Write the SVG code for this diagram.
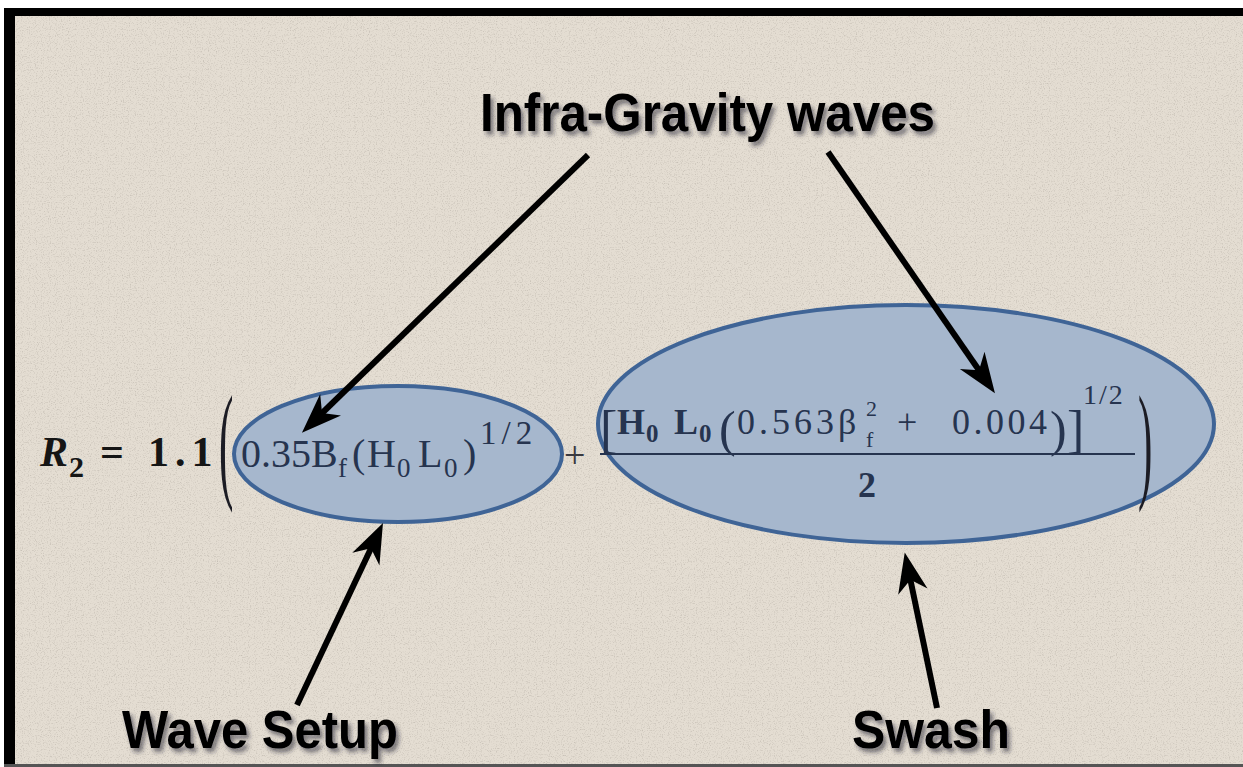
<svg xmlns="http://www.w3.org/2000/svg" width="1243" height="767" viewBox="0 0 1243 767">
<style>
.math{font-family:"Liberation Serif","DejaVu Serif",serif;fill:#26344f}
.lhs{font-family:"Liberation Serif","DejaVu Serif",serif;fill:#151515;font-weight:bold}
.op{font-family:"Liberation Serif","DejaVu Serif",serif;fill:#3a3a40;font-weight:normal}
.delim{font-family:"Liberation Serif","DejaVu Serif",serif;fill:#1c1c24;font-size:24px}
.lbl{font-family:"Liberation Sans Narrow","Liberation Sans",Arial,sans-serif;font-weight:bold;fill:#000}
.bub{fill:#a6b7cd;stroke:#3f6496;stroke-width:4}
.conn{stroke:#000;stroke-width:6;fill:none;marker-end:url(#head)}
.b{font-weight:bold}
</style>
<defs>
<filter id="grain" x="0" y="0" width="100%" height="100%">
<feTurbulence type="fractalNoise" baseFrequency="0.85" numOctaves="2" seed="7"/>
<feColorMatrix type="matrix" values="0 0 0 0 0.45 0 0 0 0 0.41 0 0 0 0 0.36 0 0 0 1.5 -0.76"/>
</filter>
<filter id="shadow" x="-10%" y="-30%" width="120%" height="170%">
<feDropShadow dx="3" dy="4" stdDeviation="2" flood-color="#1a2030" flood-opacity="0.55"/>
</filter>
<marker id="head" markerUnits="userSpaceOnUse" markerWidth="42" markerHeight="32" viewBox="0 0 42 32" refX="19" refY="16" orient="auto">
<path d="M0,1 L40,16 L0,31 L12,16 Z" fill="#000"/>
</marker>
</defs>

<g id="background">
<rect x="0" y="0" width="1243" height="767" fill="#fff"/>
<rect x="4" y="8" width="1239" height="757" fill="#e4ddd2"/>
<rect x="4" y="8" width="1239" height="757" filter="url(#grain)"/>
<rect x="4" y="8" width="1239" height="8" fill="#000"/>
<rect x="4" y="8" width="11" height="759" fill="#000"/>
<rect x="4" y="764" width="1239" height="3" fill="#555"/>
</g>

<g id="node-setup">
<ellipse class="bub" cx="398" cy="454" rx="164" ry="68"/>
<text class="math" font-size="40" y="467"><tspan x="241">0.35B</tspan><tspan x="338" y="477" font-size="27">f</tspan><tspan x="352" y="467">(</tspan><tspan x="367">H</tspan><tspan x="397" y="477" font-size="27">0</tspan><tspan x="418" y="467">L</tspan><tspan x="444" y="477" font-size="27">0</tspan><tspan x="463" y="467">)</tspan><tspan x="480" y="444" font-size="33" letter-spacing="5">1/2</tspan></text>
</g>

<g id="node-swash">
<ellipse class="bub" cx="906" cy="424" rx="308" ry="119"/>
<text class="math" font-size="36" y="434"><tspan x="600" y="447" font-size="52">[</tspan><tspan x="617" y="434" class="b">H</tspan><tspan x="646" y="442" font-size="25" class="b">0</tspan><tspan x="674" y="434" class="b">L</tspan><tspan x="699" y="442" font-size="25" class="b">0</tspan><tspan x="719" y="446" font-size="50">(</tspan><tspan x="737" y="434" letter-spacing="4">0.563β</tspan><tspan x="866" y="416" font-size="22">2</tspan><tspan x="866" y="447" font-size="22">f</tspan><tspan x="897" y="434">+</tspan><tspan x="952" letter-spacing="3.5">0.004</tspan><tspan x="1050" y="446" font-size="50">)</tspan><tspan x="1067" y="447" font-size="52">]</tspan><tspan x="1083" y="404" font-size="28" letter-spacing="2">1/2</tspan></text>
<line x1="600" y1="454" x2="1135" y2="454" stroke="#26344f" stroke-width="2"/>
<text class="math b" font-size="36" x="867" y="497" text-anchor="middle">2</text>
</g>

<g id="node-lhs">
<text class="lhs" font-size="42" y="466"><tspan x="40" font-style="italic">R</tspan><tspan x="69" y="477" font-size="30">2</tspan><tspan x="100" y="466">=</tspan><tspan x="148" letter-spacing="6">1.1</tspan></text>
<text class="delim" transform="translate(219,485) scale(1.8,5.4)">(</text>
<text class="op" font-size="38" x="564" y="468">+</text>
<text class="delim" transform="translate(1138,485) scale(1.8,5.4)">)</text>
</g>

<g id="label-infra">
<text class="lbl" font-size="54" x="480" y="131" textLength="455" lengthAdjust="spacingAndGlyphs" filter="url(#shadow)">Infra-Gravity waves</text>
</g>
<g id="label-setup">
<text class="lbl" font-size="54" x="122" y="748" textLength="276" lengthAdjust="spacingAndGlyphs" filter="url(#shadow)">Wave Setup</text>
</g>
<g id="label-swash">
<text class="lbl" font-size="54" x="852" y="748" textLength="158" lengthAdjust="spacingAndGlyphs" filter="url(#shadow)">Swash</text>
</g>

<g id="connectors">
<line class="conn" x1="588" y1="155" x2="317" y2="418"/>
<line class="conn" x1="828" y1="152" x2="983" y2="376"/>
<line class="conn" x1="297" y1="705" x2="374" y2="542"/>
<line class="conn" x1="937" y1="708" x2="909" y2="573"/>
</g>
</svg>
